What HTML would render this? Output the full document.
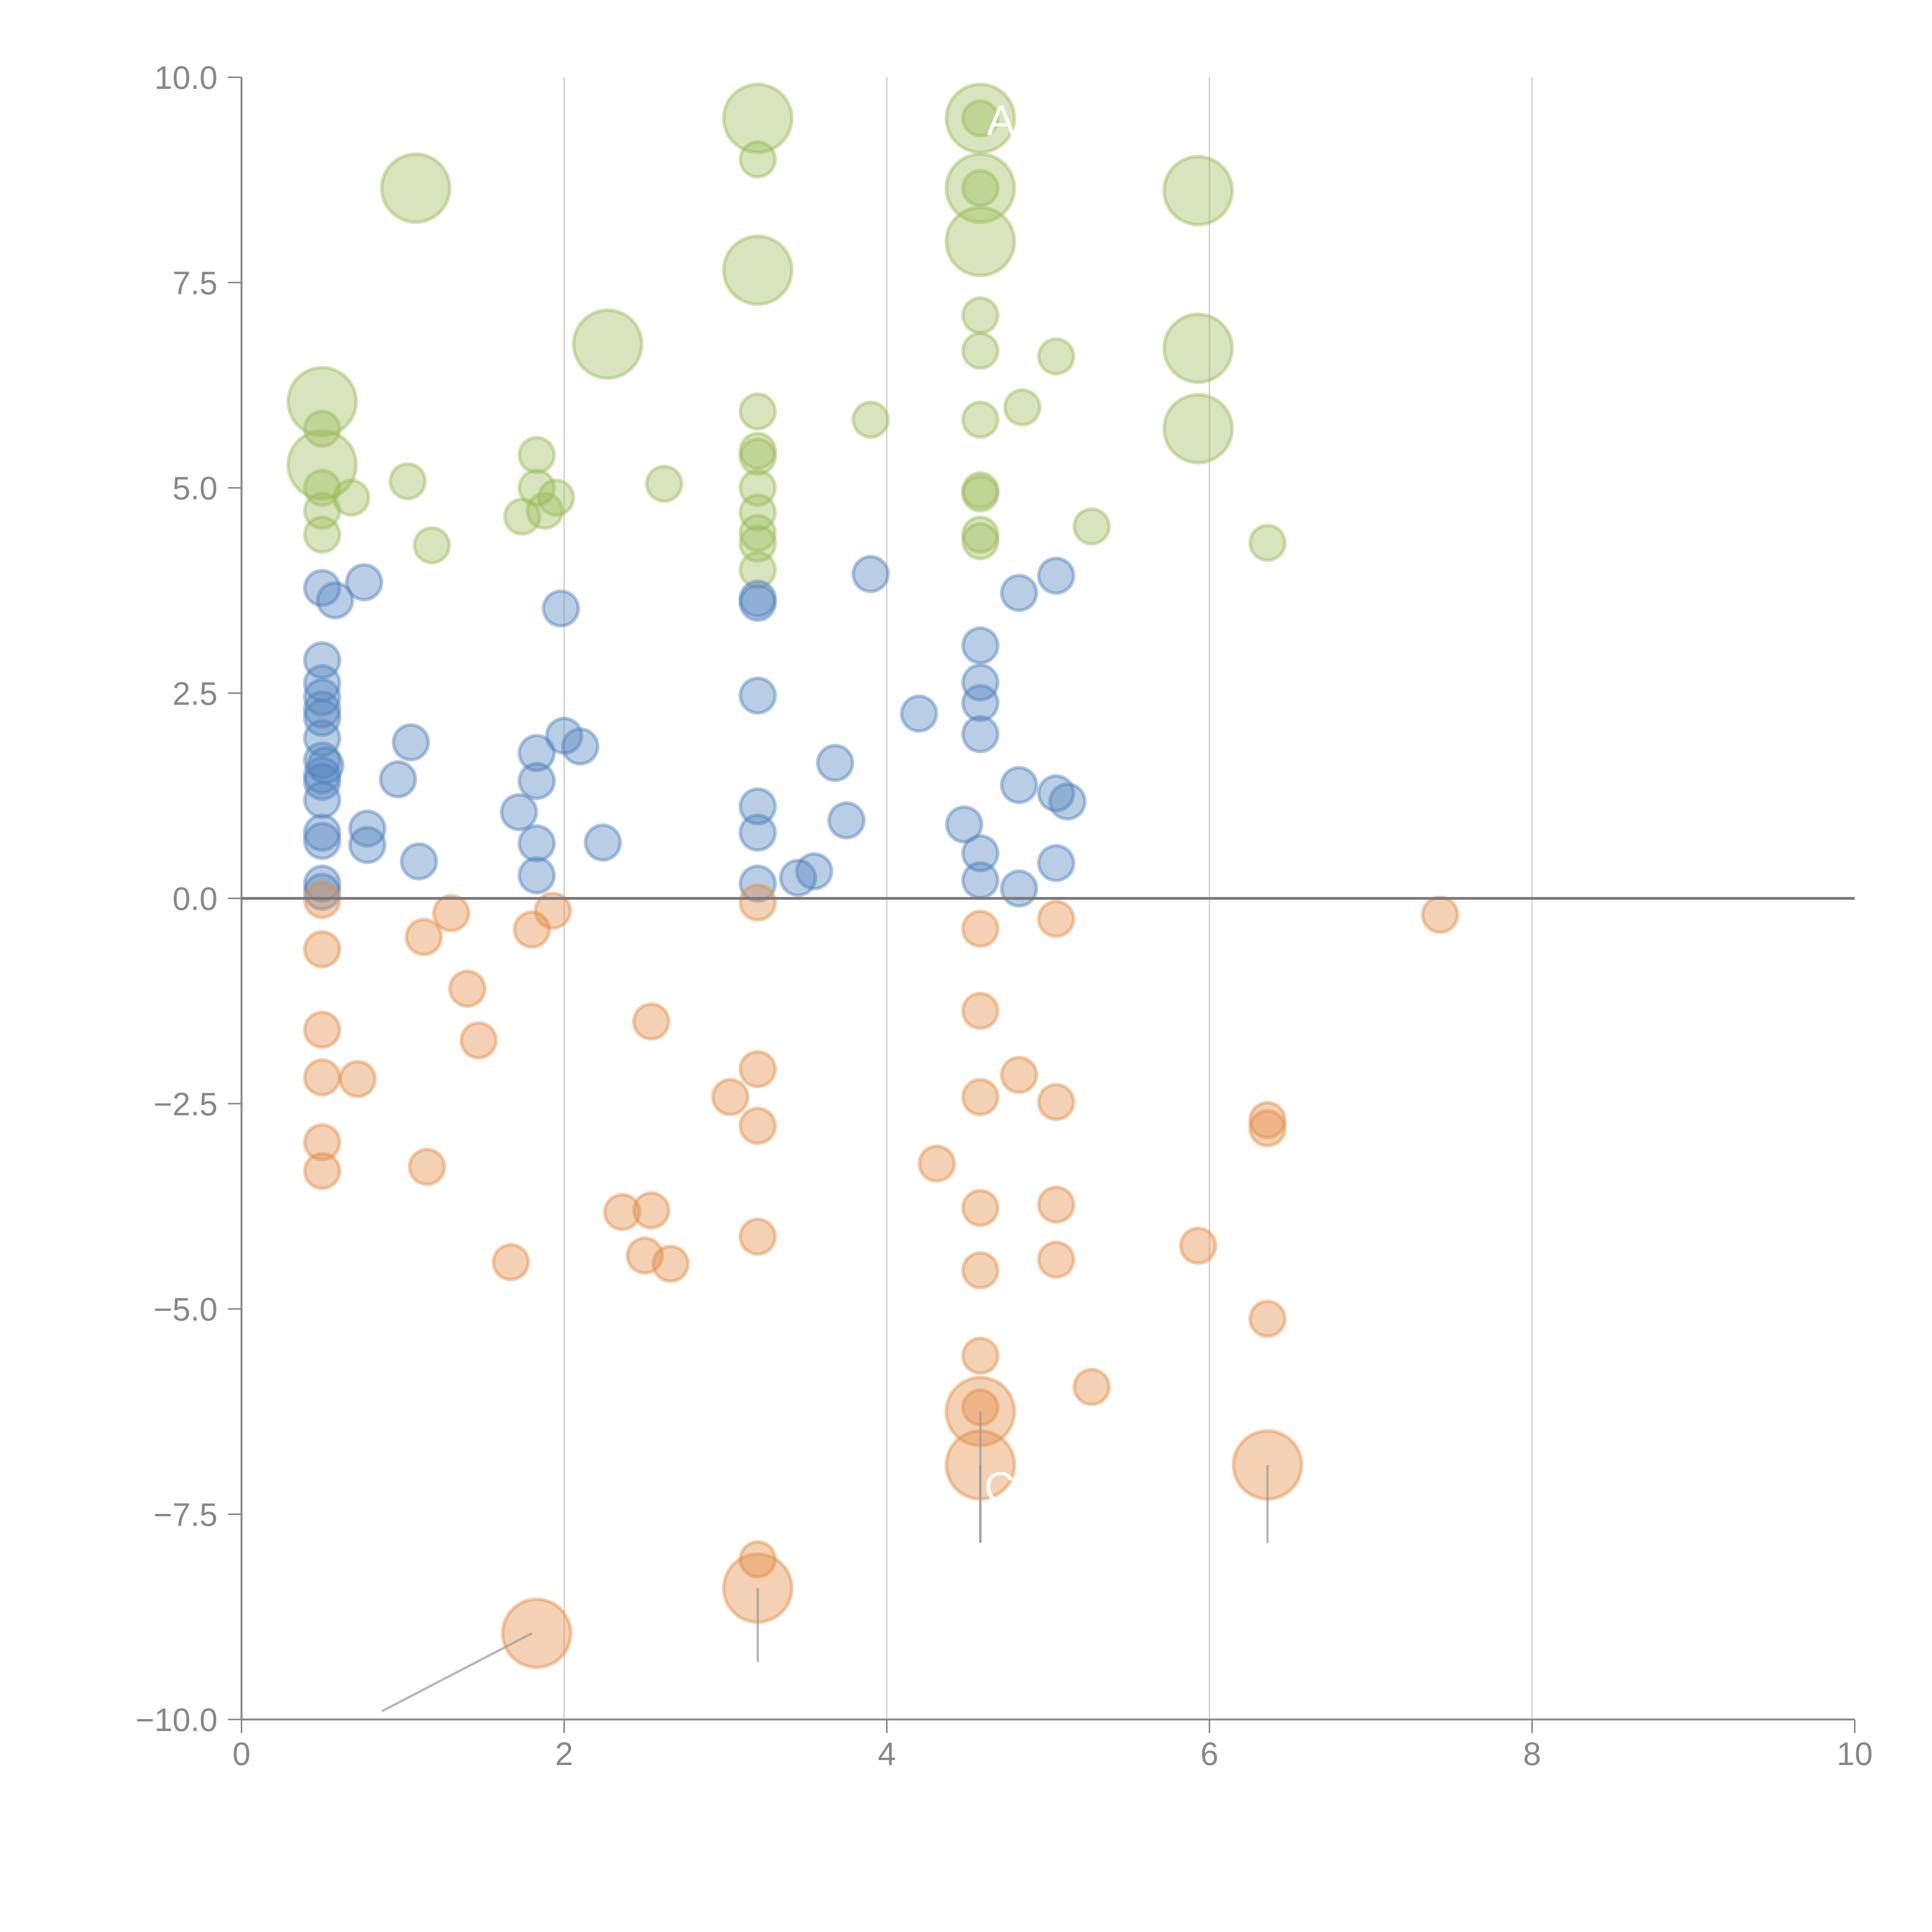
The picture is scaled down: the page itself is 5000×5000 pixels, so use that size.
<!DOCTYPE html>
<html><head><meta charset="utf-8"><style>
html,body{margin:0;padding:0;background:#fff;}
svg{display:block;font-family:"Liberation Sans",sans-serif;}
</style></head><body>
<svg id="chart" width="5000" height="5000" viewBox="0 0 5000 5000">
<g id="grid"></g>
<g id="axes"></g>
<g id="marks"></g>
<g id="ann"></g>
</svg>
<script>
const xTicks=[0,2,4,6,8,10];
const yTicks=[10,7.5,5,2.5,0,-2.5,-5,-7.5,-10];
const yTickLabels=["10.0","7.5","5.0","2.5","0.0","\u22122.5","\u22125.0","\u22127.5","\u221210.0"];
const greenBigX=[1.08,3.2,4.58,4.58,4.58,3.2,2.27,0.5,0.5,5.93,5.93,5.93];
const greenBigY=[8.65,9.5,9.5,8.65,8.0,7.65,6.75,6.05,5.28,8.62,6.7,5.72];
const greenX=[3.2,4.58,4.58,4.58,4.58,5.05,4.84,3.9,4.58,3.2,0.5,0.5,0.5,0.5,0.68,1.03,1.18,1.83,1.83,1.95,1.88,1.74,2.62,3.2,3.2,3.2,3.2,3.2,3.2,3.2,4.58,4.58,4.58,4.58,5.27,6.36];
const greenY=[9.0,9.5,8.65,7.1,6.67,6.6,5.98,5.83,5.83,5.93,5.72,5.0,4.72,4.43,4.88,5.08,4.3,5.4,5.0,4.88,4.72,4.65,5.05,5.45,5.38,5.0,4.7,4.45,4.32,4.0,4.97,4.93,4.43,4.35,4.53,4.33];
const blueX=[0.5,0.58,0.76,1.98,3.2,3.2,3.9,4.82,5.05,0.5,0.5,0.5,0.5,0.5,0.5,0.5,0.52,0.5,0.5,0.5,0.5,0.5,0.5,0.5,0.78,0.78,0.97,1.05,1.1,1.83,1.83,1.72,1.83,1.83,2.0,2.1,2.24,3.2,3.2,3.2,3.2,3.45,3.55,3.68,3.75,4.2,4.58,4.58,4.58,4.58,4.48,4.58,4.58,4.82,4.82,5.05,5.12,5.05];
const blueY=[3.78,3.63,3.85,3.53,3.65,3.6,3.95,3.72,3.93,2.9,2.62,2.45,2.3,2.2,1.95,1.68,1.62,1.5,1.42,1.2,0.8,0.7,0.18,0.08,0.85,0.65,1.45,1.9,0.45,1.77,1.43,1.05,0.67,0.28,1.98,1.85,0.68,2.47,1.12,0.8,0.18,0.25,0.33,1.65,0.95,2.25,3.08,2.63,2.38,2.0,0.9,0.55,0.22,1.38,0.12,1.28,1.18,0.43];
const orangeX=[0.5,0.5,0.5,0.5,0.72,0.5,0.5,1.13,1.3,1.4,1.47,1.15,1.8,1.93,1.67,2.54,2.36,2.54,2.5,2.66,3.03,3.2,3.2,3.2,3.2,3.2,4.31,4.58,4.58,4.58,4.58,4.58,4.58,4.58,4.82,5.05,5.05,5.05,5.05,5.27,5.93,6.36,6.36,6.36,7.43];
const orangeY=[-0.02,-0.62,-1.6,-2.18,-2.2,-2.97,-3.32,-0.47,-0.18,-1.1,-1.73,-3.27,-0.38,-0.15,-4.43,-1.5,-3.82,-3.8,-4.35,-4.45,-2.42,-0.05,-2.08,-2.77,-4.12,-8.05,-3.23,-0.37,-1.37,-2.42,-3.77,-4.53,-5.57,-6.2,-2.15,-0.25,-2.48,-3.73,-4.4,-5.95,-4.23,-2.7,-2.8,-5.12,-0.2];
const orangeBigX=[4.58,4.58,6.36,3.2,1.83];
const orangeBigY=[-6.25,-6.9,-6.9,-8.4,-8.95];

const X0=625,X1=4800,Y0=4450,Y1=200;
const sx=v=>X0+(v-0)/(10-0)*(X1-X0);
const sy=v=>Y0-(v+10)/20*(Y0-Y1);
const NS="http://www.w3.org/2000/svg";
function mk(tag,parent,attrs){const e=document.createElementNS(NS,tag);for(const k in attrs)e.setAttribute(k,attrs[k]);parent.appendChild(e);return e;}
const grid=document.getElementById('grid'),axes=document.getElementById('axes'),marks=document.getElementById('marks'),ann=document.getElementById('ann');

xTicks.forEach((t,i)=>{
  if(t>0&&t<10){const g=mk('line',grid,{x1:sx(t),x2:sx(t),y1:Y1,y2:Y0,stroke:'#c8c8c8','stroke-width':3});
  
  }
  const tk=mk('line',axes,{x1:sx(t),x2:sx(t),y1:Y0,y2:Y0+35,stroke:'#888','stroke-width':4});
  
  
  const tx=mk('text',axes,{x:sx(t),y:Y0+118,'text-anchor':'middle','font-size':84,fill:'#888'});
  tx.textContent=String(t);
  
  
});
yTicks.forEach((t,i)=>{
  const tk=mk('line',axes,{x1:X0-35,x2:X0,y1:sy(t),y2:sy(t),stroke:'#888','stroke-width':4});
  
  
  const tx=mk('text',axes,{x:X0-62,y:sy(t)+30,'text-anchor':'end','font-size':84,fill:'#888'});
  tx.textContent=yTickLabels[i];
  
  
});
const ya=mk('line',axes,{x1:X0,x2:X0,y1:Y1,y2:Y0,stroke:'#888','stroke-width':5});


const xa=mk('line',axes,{x1:X0,x2:X1,y1:Y0,y2:Y0,stroke:'#888','stroke-width':5});



function drawSeries(xs,ys,r,color,name){
  xs.forEach((v,i)=>{
    const c=mk('circle',marks,{cx:sx(v),cy:sy(ys[i]),r:r,fill:color,'fill-opacity':0.4,stroke:color,'stroke-opacity':0.45,'stroke-width':9});
    
    
  });
}
drawSeries(greenBigX,greenBigY,88,'#9bbb59','green-big-bubble');
drawSeries(greenX,greenY,45,'#9bbb59','green-bubble');
drawSeries(blueX,blueY,45,'#4f81bd','blue-bubble');
drawSeries(orangeBigX,orangeBigY,88,'#e48b44','orange-big-bubble');
drawSeries(orangeX,orangeY,45,'#e48b44','orange-bubble');

const zl=mk('line',marks,{x1:X0,x2:X1,y1:sy(0),y2:sy(0),stroke:'#777','stroke-width':7});



const leadX=[4.58,4.58,6.36,3.2];
const leadY1=[-6.25,-6.9,-6.9,-8.4];
const leadY2=[-7.85,-7.85,-7.85,-9.3];
leadX.forEach((v,i)=>{
  const l=mk('line',ann,{x1:sx(v),x2:sx(v),y1:sy(leadY1[i]),y2:sy(leadY2[i]),stroke:'#999','stroke-opacity':0.7,'stroke-width':6});
  
  
});
const dl=mk('line',ann,{x1:sx(1.8),y1:sy(-8.95),x2:sx(0.87),y2:sy(-9.9),stroke:'#999','stroke-opacity':0.7,'stroke-width':6});


const la=mk('text',ann,{x:sx(4.62),y:sy(9.3),'font-size':110,fill:'#fff'});
la.textContent='A';


const lc=mk('text',ann,{x:sx(4.58)+10,y:sy(-7.35),'font-size':110,fill:'#fff'});
lc.textContent='C';


</script>
</body></html>
